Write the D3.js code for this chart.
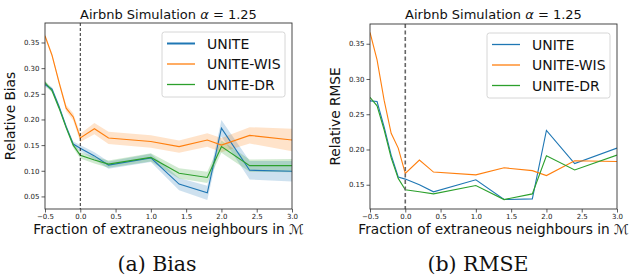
<!DOCTYPE html>
<html>
<head>
<meta charset="utf-8">
<script src="https://cdn.jsdelivr.net/npm/d3@7"></script>
<style>
  body { margin: 0; background: #fff; }
  svg { display: block; font-family: "DejaVu Sans", sans-serif; }
</style>
</head>
<body>
<div id="chart"></div>
<script>
// fraction of extraneous neighbours
const xs = [-0.5, -0.4, -0.3, -0.2, -0.1, 0.0, 0.2, 0.4, 1.0, 1.4, 1.8, 2.0, 2.4, 3.0];
const xTicks = [-0.5, 0.0, 0.5, 1.0, 1.5, 2.0, 2.5, 3.0];
const seriesNames = ["UNITE", "UNITE-WIS", "UNITE-DR"];

// (a) relative bias, mean and CI half-width
const biasUnite = [0.268, 0.259, 0.225, 0.186, 0.152, 0.144, 0.129, 0.111, 0.125, 0.074, 0.057, 0.183, 0.101, 0.099];
const biasWis   = [0.363, 0.325, 0.272, 0.222, 0.205, 0.164, 0.182, 0.164, 0.157, 0.147, 0.160, 0.150, 0.169, 0.160];
const biasDr    = [0.272, 0.256, 0.222, 0.184, 0.150, 0.130, 0.121, 0.113, 0.126, 0.095, 0.087, 0.147, 0.110, 0.110];
const biasUniteCI = [0.004, 0.004, 0.004, 0.004, 0.005, 0.006, 0.007, 0.007, 0.008, 0.012, 0.014, 0.016, 0.018, 0.020];
const biasWisCI   = [0.004, 0.004, 0.005, 0.006, 0.007, 0.008, 0.011, 0.012, 0.012, 0.012, 0.013, 0.014, 0.016, 0.022];
const biasDrCI    = [0.004, 0.004, 0.004, 0.004, 0.005, 0.006, 0.007, 0.007, 0.008, 0.010, 0.011, 0.012, 0.012, 0.013];
const biasTicks = [0.05, 0.10, 0.15, 0.20, 0.25, 0.30, 0.35];

// (b) relative RMSE
const rmseUnite = [0.269, 0.268, 0.232, 0.192, 0.161, 0.158, 0.150, 0.140, 0.157, 0.129, 0.130, 0.227, 0.180, 0.202];
const rmseWis   = [0.366, 0.327, 0.270, 0.223, 0.202, 0.166, 0.185, 0.168, 0.164, 0.174, 0.170, 0.163, 0.184, 0.183];
const rmseDr    = [0.274, 0.262, 0.228, 0.188, 0.159, 0.143, 0.140, 0.137, 0.149, 0.129, 0.137, 0.191, 0.171, 0.192];
const rmseTicks = [0.15, 0.20, 0.25, 0.30, 0.35];

const colors = ["#1f77b4", "#ff7f0e", "#2ca02c"];

const svg = d3.select("#chart").append("svg")
    .attr("width", 630)
    .attr("height", 278);

function drawPanel(cfg) {
    const x = d3.scaleLinear().domain([-0.5, 3.0]).range([cfg.left, cfg.right]);
    const y = d3.scaleLinear().domain(cfg.yDomain).range([cfg.bottom, cfg.top]);
    const g = svg.append("g");

    // clip to the axes
    g.append("clipPath").attr("id", cfg.id + "-clip")
        .append("rect")
        .attr("x", cfg.left).attr("y", cfg.top)
        .attr("width", cfg.right - cfg.left).attr("height", cfg.bottom - cfg.top);
    const plot = g.append("g").attr("clip-path", `url(#${cfg.id}-clip)`);

    // confidence bands
    if (cfg.ci) {
        const area = d3.area()
            .x((d, i) => x(xs[i]))
            .y0(d => y(d[0] - d[1]))
            .y1(d => y(d[0] + d[1]));
        cfg.series.forEach((s, k) => {
            plot.append("path")
                .attr("d", area(s.map((v, i) => [v, cfg.ci[k][i]])))
                .attr("fill", colors[k])
                .attr("fill-opacity", 0.22)
                .attr("stroke", "none");
        });
    }

    const line = d3.line().x((d, i) => x(xs[i])).y(d => y(d));
    cfg.series.forEach((s, k) => {
        plot.append("path")
            .attr("d", line(s))
            .attr("fill", "none")
            .attr("stroke", colors[k])
            .attr("stroke-width", 1.1);
    });

    // dashed marker at zero
    g.append("line")
        .attr("x1", x(0)).attr("x2", x(0))
        .attr("y1", cfg.top).attr("y2", cfg.bottom)
        .attr("stroke", cfg.dashColor)
        .attr("stroke-width", cfg.dashWidth)
        .attr("stroke-dasharray", cfg.dashArray);

    // axes
    const xAxis = g.append("g")
        .attr("transform", `translate(0,${cfg.bottom})`)
        .call(d3.axisBottom(x).tickValues(xTicks).tickFormat(d3.format(".1f")).tickSize(3.5).tickPadding(2));
    const yAxis = g.append("g")
        .attr("transform", `translate(${cfg.left},0)`)
        .call(d3.axisLeft(y).tickValues(cfg.yTicks).tickFormat(d3.format(".2f")).tickSize(3.5).tickPadding(2));
    [xAxis, yAxis].forEach(a => {
        a.select(".domain").remove();
        a.selectAll("line").attr("stroke", "#333").attr("stroke-width", 0.8);
        a.selectAll("text").attr("fill", "#222").style("font-size", "7px").style("font-family", "DejaVu Sans");
    });

    // frame
    g.append("rect")
        .attr("x", cfg.left).attr("y", cfg.top)
        .attr("width", cfg.right - cfg.left).attr("height", cfg.bottom - cfg.top)
        .attr("fill", "none")
        .attr("stroke", "#333")
        .attr("stroke-width", 0.9);

    const cx = (cfg.left + cfg.right) / 2;

    // title
    const title = g.append("text")
        .attr("x", cx).attr("y", 19)
        .attr("text-anchor", "middle")
        .style("font-size", "13px")
        .attr("fill", "#111");
    title.append("tspan").text("Airbnb Simulation ");
    title.append("tspan").style("font-style", "italic").text("α");
    title.append("tspan").text(" = 1.25");

    // axis labels
    const xl = g.append("text")
        .attr("x", cx).attr("y", 234)
        .attr("text-anchor", "middle")
        .style("font-size", "13.7px")
        .attr("fill", "#111");
    xl.append("tspan").text("Fraction of extraneous neighbours in ");
    xl.append("tspan").style("font-style", "italic").text("ℳ");

    g.append("text")
        .attr("transform", `translate(${cfg.yLabelX},${(cfg.top + cfg.bottom) / 2}) rotate(-90)`)
        .attr("text-anchor", "middle")
        .style("font-size", "13.7px")
        .attr("fill", "#111")
        .text(cfg.yLabel);

    // caption
    g.append("text")
        .attr("x", cfg.captionX).attr("y", 271)
        .attr("text-anchor", "middle")
        .style("font-family", "'DejaVu Serif', serif")
        .style("font-size", "20.5px")
        .attr("fill", "#111")
        .text(cfg.caption);

    // legend
    const lg = g.append("g").attr("transform", `translate(${cfg.right - 130},${cfg.top + 9})`);
    lg.append("rect")
        .attr("width", 123).attr("height", 65)
        .attr("rx", 2.5)
        .attr("fill", "#fff").attr("fill-opacity", 0.85)
        .attr("stroke", "#ccc").attr("stroke-width", 0.8);
    seriesNames.forEach((name, k) => {
        const ly = 11.5 + k * 20.5;
        lg.append("line")
            .attr("x1", 5).attr("x2", 33)
            .attr("y1", ly).attr("y2", ly)
            .attr("stroke", colors[k])
            .attr("stroke-width", (cfg.ci && k === 0) ? 2 : 1.3);
        lg.append("text")
            .attr("x", 45).attr("y", ly + 5)
            .style("font-size", "14px")
            .attr("fill", "#111")
            .text(name);
    });
}

drawPanel({
    id: "bias",
    left: 45, right: 292, top: 23, bottom: 209,
    yDomain: [0.0255, 0.388],
    yTicks: biasTicks,
    series: [biasUnite, biasWis, biasDr],
    ci: [biasUniteCI, biasWisCI, biasDrCI],
    dashColor: "#111", dashWidth: 0.9, dashArray: "3,2",
    yLabel: "Relative Bias", yLabelX: 15,
    caption: "(a) Bias", captionX: 157
});

drawPanel({
    id: "rmse",
    left: 370, right: 617, top: 24, bottom: 209,
    yDomain: [0.1156, 0.378],
    yTicks: rmseTicks,
    series: [rmseUnite, rmseWis, rmseDr],
    ci: null,
    dashColor: "#666", dashWidth: 1.6, dashArray: "4,2.5",
    yLabel: "Relative RMSE", yLabelX: 340,
    caption: "(b) RMSE", captionX: 478
});
</script>
</body>
</html>
